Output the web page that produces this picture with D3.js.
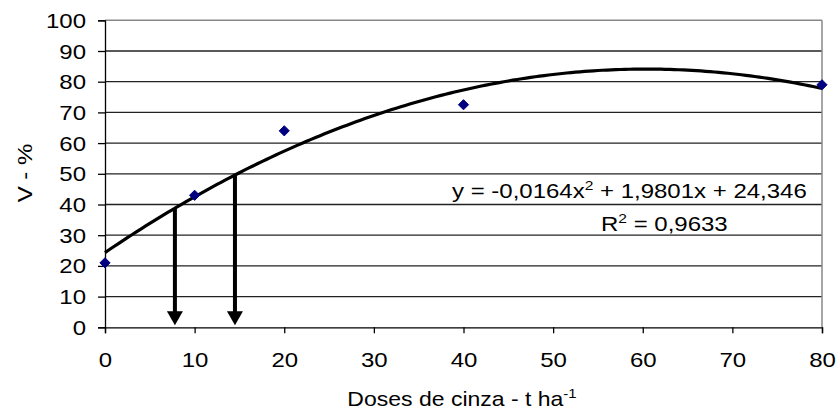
<!DOCTYPE html>
<html><head><meta charset="utf-8">
<script src="https://cdn.jsdelivr.net/npm/d3@7"></script>
<style>body{margin:0;background:#fff}svg{display:block}text{font-family:"Liberation Sans",Arial,sans-serif;fill:#000}</style>
</head><body><svg id="c" width="839" height="417"></svg>
<script>
const doses = [0, 10, 20, 40, 80];
const vValues = [21, 43, 64, 72.5, 79];
const xTicks = [0, 10, 20, 30, 40, 50, 60, 70, 80];
const yTicks = [0, 10, 20, 30, 40, 50, 60, 70, 80, 90, 100];
const trendCoef = [24.346, 1.9801, -0.0164]; // c0, c1, c2 from chart equation
const arrowDoses = [7.8, 14.5];
const eqText = "y = -0,0164x";
const r2Text = "0,9633";

const SX = 1.2, FS = 20, SUP = 13;
const svg = d3.select("#c");
const L = 105, R = 822, T = 20.3, B = 327.3;
const x = d3.scaleLinear().domain([0, 80]).range([L, R]);
const y = d3.scaleLinear().domain([0, 100]).range([B, T]);
const trend = d => trendCoef[0] + trendCoef[1]*d + trendCoef[2]*d*d;

// gridlines
svg.append("g").selectAll("line").data(yTicks.filter(t => t > 0 && t < 100)).join("line")
  .attr("x1", L).attr("x2", R).attr("y1", d => y(d)).attr("y2", d => y(d))
  .attr("stroke", "#222").attr("stroke-width", 1.3);
// top & right border
svg.append("line").attr("x1", L).attr("x2", R).attr("y1", y(100)).attr("y2", y(100)).attr("stroke", "#888").attr("stroke-width", 1.5);
svg.append("line").attr("x1", R).attr("x2", R).attr("y1", T).attr("y2", B).attr("stroke", "#888").attr("stroke-width", 1.5);

// axes
const ax = svg.append("g").attr("transform", `translate(0,${B})`)
  .call(d3.axisBottom(x).tickValues(xTicks).tickSize(6).tickPadding(0).tickFormat(d3.format("d")));
const ay = svg.append("g").attr("transform", `translate(${L},0)`)
  .call(d3.axisLeft(y).tickValues(yTicks).tickSize(7).tickPadding(0).tickFormat(d3.format("d")));
[ax, ay].forEach(a => {
  a.select(".domain").attr("stroke", "#000").attr("stroke-width", 1.3);
  a.selectAll(".tick line").attr("stroke", "#000").attr("stroke-width", 1.3);
  a.selectAll("text").attr("font-size", FS).attr("font-family", "Liberation Sans, Arial, sans-serif").attr("fill", "#000");
});
ax.selectAll(".tick text").attr("y", 0).attr("dy", null).attr("transform", `translate(0,40) scale(${SX},1)`);
ay.selectAll(".tick text").attr("x", 0).attr("dy", "0.35em").attr("transform", `translate(-19,0) scale(${SX},1)`);

// trend curve
const curveX = d3.range(0, 80.001, 0.5);
svg.append("path").datum(curveX)
  .attr("d", d3.line().x(d => x(d)).y(d => y(trend(d))))
  .attr("fill", "none").attr("stroke", "#000").attr("stroke-width", 3.2);

// arrows
const arrows = svg.append("g");
arrowDoses.forEach(d => {
  const xa = x(d), y0 = y(trend(d)), tip = y(0) - 2;
  arrows.append("line").attr("x1", xa).attr("x2", xa).attr("y1", y0).attr("y2", tip - 12)
    .attr("stroke", "#000").attr("stroke-width", 4);
  arrows.append("path").attr("d", `M${xa-8},${tip-14}L${xa+8},${tip-14}L${xa},${tip}Z`).attr("fill", "#000");
});

// markers
svg.append("g").selectAll("path").data(doses.map((d, i) => [d, vValues[i]])).join("path")
  .attr("transform", d => `translate(${x(d[0])},${y(d[1])})`)
  .attr("d", d3.symbol().type(d3.symbolDiamond2).size(66))
  .attr("fill", "#000080").attr("stroke", "#000080").attr("stroke-width", 1);

// equation
const eq = svg.append("text").attr("transform", `translate(452,198) scale(${SX},1)`).attr("font-size", FS);
eq.append("tspan").text(eqText);
eq.append("tspan").attr("dy", -8).attr("font-size", SUP).text("2");
eq.append("tspan").attr("dy", 8).text(" + 1,9801x + 24,346");
const r2 = svg.append("text").attr("transform", `translate(601,231) scale(${SX},1)`).attr("font-size", FS);
r2.append("tspan").text("R");
r2.append("tspan").attr("dy", -8).attr("font-size", SUP).text("2");
r2.append("tspan").attr("dy", 8).text(" = " + r2Text);

// axis titles
const xt = svg.append("text").attr("transform", `translate(462,406) scale(1.15,1)`).attr("font-size", FS).attr("text-anchor", "middle");
xt.append("tspan").text("Doses de cinza - t ha");
xt.append("tspan").attr("dy", -8).attr("font-size", SUP).text("-1");
svg.append("text").attr("transform", `translate(32,173) rotate(-90) scale(${SX},1)`).attr("font-size", FS).attr("text-anchor", "middle").text("V - %");
</script></body></html>
